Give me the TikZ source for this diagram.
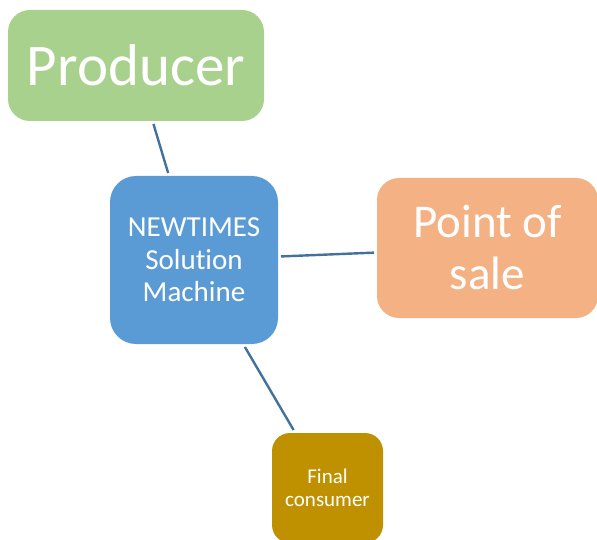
\documentclass[tikz,border=0pt]{standalone}
\usepackage{fontspec}
\setmainfont[Ligatures=NoCommon]{Carlito}
\usepackage{tikz}

\definecolor{prodgreen}{HTML}{A9D18E}
\definecolor{machblue}{HTML}{5B9BD5}
\definecolor{saleorange}{HTML}{F4B183}
\definecolor{consgold}{HTML}{BF9000}
\definecolor{linkblue}{HTML}{41719C}

\tikzset{
	box/.style={rounded corners=22pt, inner sep=0pt, outer sep=3pt, align=center, text=white},
	link/.style={draw=linkblue, line width=2.4pt}
}

\begin{document}
\begin{tikzpicture}[x=1pt, y=-1pt]
		%%%%% START %%%%%
		\useasboundingbox (0, 0) rectangle (597, 540);
		
		\node[box, fill=prodgreen, minimum width=256pt, minimum height=111pt, font=\fontsize{59}{70}\selectfont] (producer) at (136, 65.5) {Producer};
		
		\node[box, fill=machblue, minimum width=168pt, minimum height=168pt, rounded corners=26pt, font=\fontsize{29}{32.5}\selectfont] (machine) at (194, 260) {NEWTIMES\\Solution\\Machine};
		
		\node[box, fill=saleorange, minimum width=221pt, minimum height=140pt, font=\fontsize{47}{52}\selectfont] (sale) at (487.5, 248) {Point of\\sale};
		
		\node[box, fill=consgold, minimum width=111pt, minimum height=110pt, rounded corners=18pt, font=\fontsize{21}{23}\selectfont] (consumer) at (327.5, 488) {Final\\consumer};
		
		\draw[link] (producer) -- (machine);
		\draw[link] (machine) -- (sale);
		\draw[link] (machine) -- (consumer);
		
		%%%%% END %%%%%
	\end{tikzpicture}
\end{document}
